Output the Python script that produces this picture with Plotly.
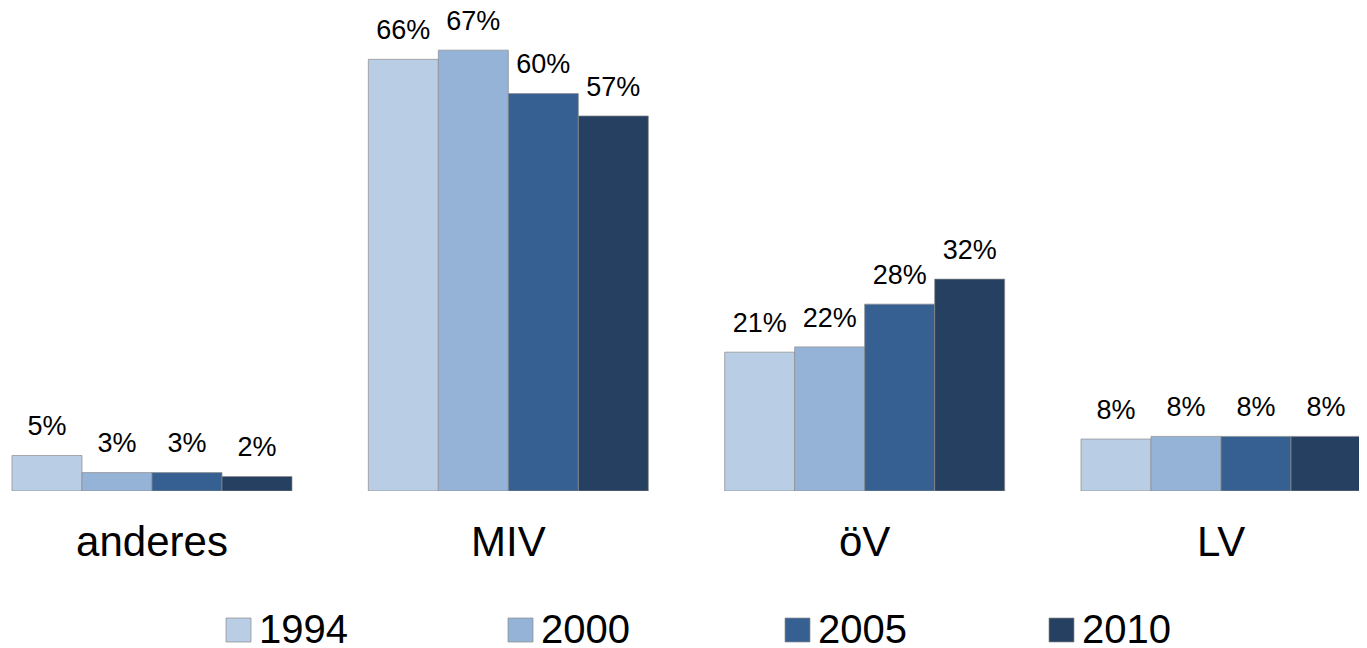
import plotly.graph_objects as go

categories = ["anderes", "MIV", "öV", "LV"]
years = ["1994", "2000", "2005", "2010"]
v1994 = [5.4, 65.6, 21.1, 7.9]
v2000 = [2.8, 67.0, 21.9, 8.3]
v2005 = [2.8, 60.4, 28.4, 8.3]
v2010 = [2.2, 57.0, 32.2, 8.3]
series = [v1994, v2000, v2005, v2010]
colors = ["#B9CDE5", "#95B3D7", "#376092", "#254061"]

# the page places the figure 8 px from the top-left corner
W, H = 1359, 640
BOTTOM = 157
PLOT_H = H - BOTTOM
FONT = "Liberation Sans, Arial, sans-serif"
LABEL_GAP = 1.7  # spacing between bar top and its label (axis units)
OUTLINE = "rgba(140,140,140,0.7)"

fig = go.Figure()
for yr, vals, col in zip(years, series, colors):
    fig.add_trace(go.Bar(
        x=categories, y=vals, name=yr, offsetgroup=yr,
        marker=dict(color=col, line=dict(color=OUTLINE, width=1)),
        showlegend=False, hovertemplate=yr + " %{x}: %{y}%<extra></extra>",
    ))
    fig.add_trace(go.Bar(
        x=categories, y=[LABEL_GAP] * len(vals), base=vals, offsetgroup=yr,
        marker=dict(color="rgba(0,0,0,0)", line=dict(width=0)),
        text=[f"{v:.0f}%" for v in vals], textposition="outside",
        textfont=dict(family=FONT, size=27, color="#000000"),
        constraintext="none", cliponaxis=False,
        showlegend=False, hoverinfo="skip",
    ))

# legend (drawn below the plot)
legend_x = [218, 500, 777, 1041]
shapes, annots = [], []
for lx, yr, col in zip(legend_x, years, colors):
    shapes.append(dict(type="rect", xref="paper", yref="paper",
                       x0=lx / W, x1=(lx + 25) / W,
                       y0=(PLOT_H - 634) / PLOT_H, y1=(PLOT_H - 610) / PLOT_H,
                       fillcolor=col, line=dict(color=OUTLINE, width=1)))
    annots.append(dict(xref="paper", yref="paper", x=(lx + 31) / W,
                       y=(PLOT_H - 621) / PLOT_H, xanchor="left", yanchor="middle",
                       text=yr, showarrow=False,
                       font=dict(family=FONT, size=40, color="#000000")))

fig.update_layout(
    width=W, height=H,
    margin=dict(l=0, r=0, t=0, b=BOTTOM, pad=0),
    paper_bgcolor="white", plot_bgcolor="white",
    barmode="group", bargap=0.2142, bargroupgap=0,
    showlegend=False,
    shapes=shapes, annotations=annots,
    font=dict(family=FONT, color="#000000"),
)
fig.update_xaxes(range=[-0.4041, 3.4097], showgrid=False, zeroline=False,
                 showline=False, ticks="", ticklabelstandoff=22,
                 tickfont=dict(family=FONT, size=42, color="#000000"))
fig.update_yaxes(range=[0, PLOT_H / 6.58], showgrid=False, zeroline=False,
                 showline=False, showticklabels=False, ticks="")

fig.write_html("out.html")
